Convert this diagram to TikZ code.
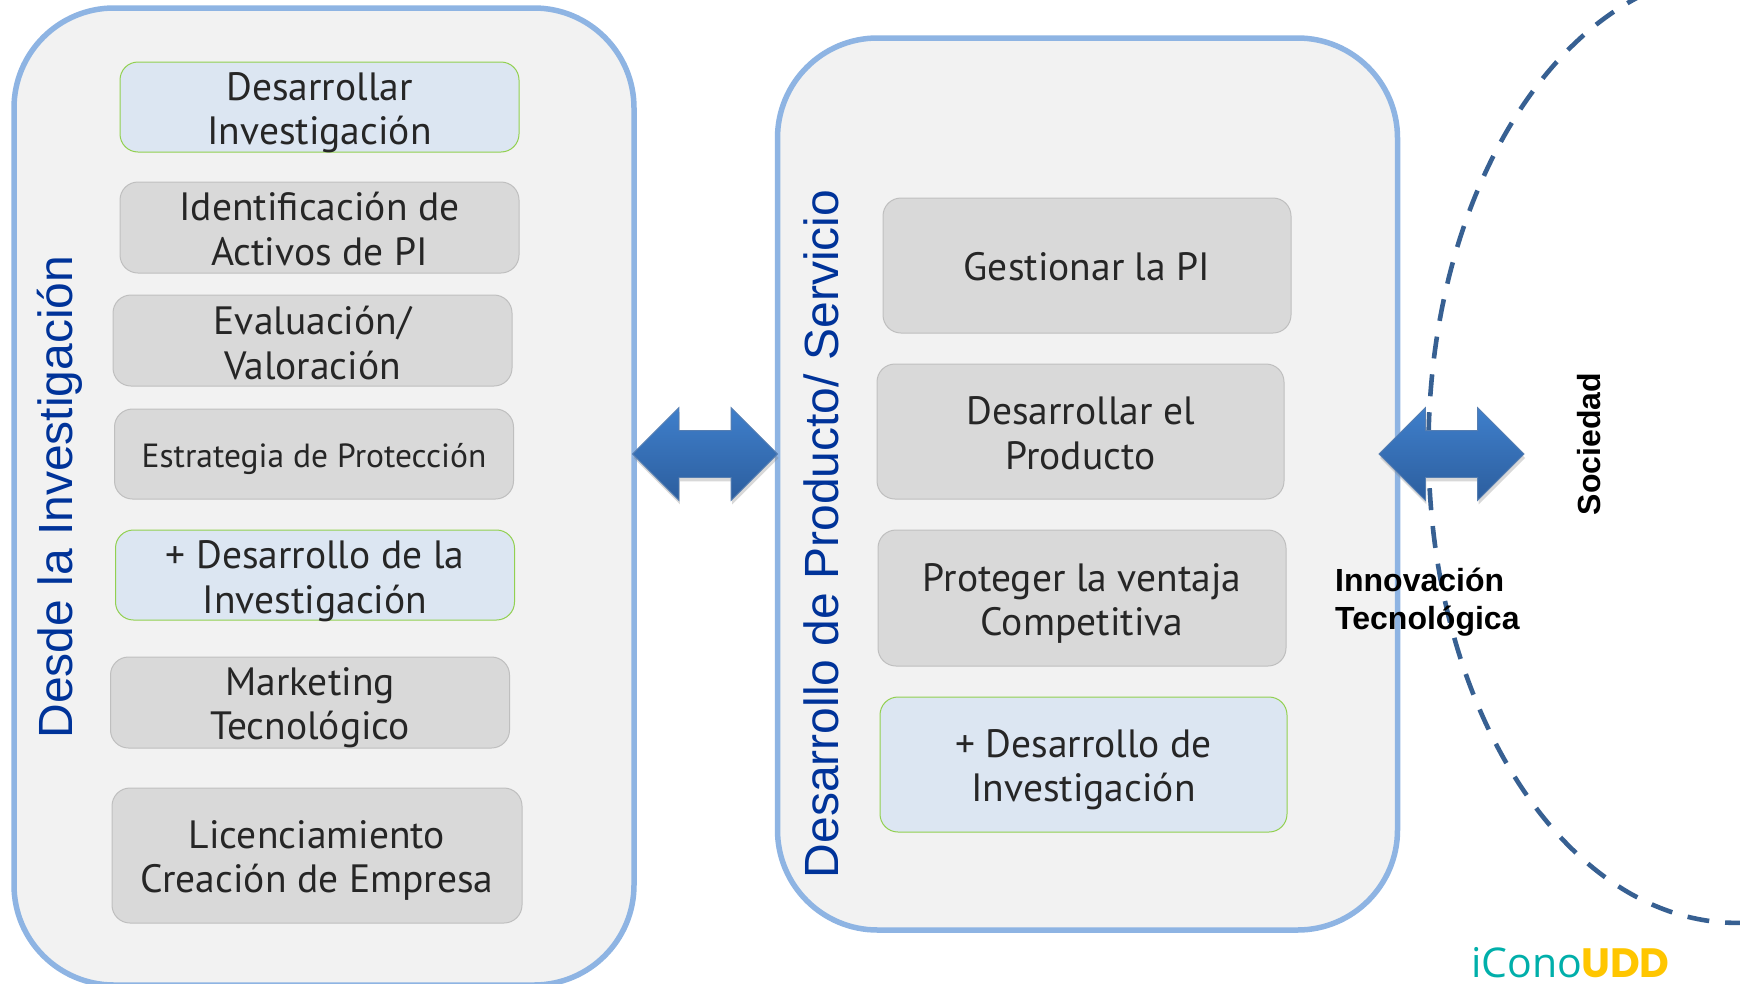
\documentclass[tikz,border=0pt]{standalone}
\usepackage{fontspec}
\usepackage{tikz}
\usetikzlibrary{shapes.arrows,shadows}
\setmainfont{PT Sans}
\newfontfamily\headfont{Liberation Sans}
\newfontfamily\logofont{Open Sans}
\newfontfamily\uddfont{Poppins}
\definecolor{panelline}{HTML}{8EB4E3}
\definecolor{panelfill}{HTML}{F2F2F2}
\definecolor{greybox}{HTML}{D9D9D9}
\definecolor{greyline}{HTML}{BFBFBF}
\definecolor{bluebox}{HTML}{DCE6F2}
\definecolor{greenline}{HTML}{92D050}
\definecolor{boxtext}{HTML}{262626}
\definecolor{headblue}{HTML}{003399}
\definecolor{dashblue}{HTML}{376092}
\definecolor{arrowtop}{HTML}{3F7FCB}
\definecolor{arrowbot}{HTML}{2C5E9E}
\definecolor{logoteal}{HTML}{00AFAA}
\definecolor{logoyellow}{HTML}{FFC600}
\newcommand{\lowtext}[1]{\rule{0pt}{#1pt}}
\begin{document}
\begin{tikzpicture}[x=1pt, y=-1pt]
\tikzstyle{panel} = [draw=panelline, fill=panelfill, line width=5.5pt, rounded corners=100pt, inner sep=0pt]
\tikzstyle{grey} = [draw=greyline, fill=greybox, line width=1pt, rounded corners=18pt, inner xsep=0pt, inner ysep=-6pt, minimum width=399pt, align=center, text=boxtext, font=\fontsize{39.5}{44.5}\selectfont]
\tikzstyle{blue} = [grey, draw=greenline, fill=bluebox]
\tikzstyle{head} = [rotate=90, text=headblue, inner sep=0pt, font=\headfont\fontsize{48}{50}\selectfont]
\tikzstyle{blk} = [inner sep=0pt, align=left, font=\headfont\bfseries\fontsize{32}{38}\selectfont]
\tikzstyle{both} = [double arrow, double arrow tip angle=90, double arrow head extend=23pt, double arrow head indent=0pt, inner xsep=0pt, inner ysep=23pt, minimum width=92pt, minimum height=145pt, draw=arrowbot!80!white, line width=.8pt, top color=arrowtop, bottom color=arrowbot, drop shadow={shadow xshift=1pt, shadow yshift=-4pt, opacity=.3}]
\clip (0,0) rectangle (1740,983);
\fill[white] (0,0) rectangle (1740,983);
\node[panel, minimum width=620pt, minimum height=977pt] (inv) at (324,496.5) {};
\node[panel, minimum width=620pt, minimum height=892pt] (prod) at (1087.5,484) {};
\draw[dashblue, line width=4.6pt, dash pattern=on 22pt off 16pt, dash phase=32.5pt] (1737.5,447.5) ellipse [x radius=309, y radius=475.4];
\node[blue, minimum height=90pt] (b1) at (319.5,107) {\lowtext{39}Desarrollar\\Investigación};
\node[grey, minimum height=91pt] (b2) at (319.5,227.5) {\lowtext{31}Identificación de\\Activos de PI};
\node[grey, minimum height=91pt] (b3) at (312.5,340.5) {\lowtext{33}Evaluación/\\Valoración};
\node[grey, minimum height=90pt, font=\fontsize{33.5}{38}\selectfont] (b4) at (314,454) {\lowtext{34}Estrategia de Protección};
\node[blue, minimum height=90pt] (b5) at (315,575) {\lowtext{40}+ Desarrollo de la\\Investigación};
\node[grey, minimum height=91pt] (b6) at (310,702.5) {\lowtext{38}Marketing\\Tecnológico};
\node[grey, minimum width=410pt, minimum height=135pt] (b7) at (317,855.5) {\lowtext{38}Licenciamiento\\Creación de Empresa};
\node[grey, minimum width=408pt, minimum height=135pt] (r1) at (1087,265.5) {\lowtext{31}Gestionar la PI};
\node[grey, minimum width=407pt, minimum height=135pt] (r2) at (1080.5,431.5) {\lowtext{31}Desarrollar el\\Producto};
\node[grey, minimum width=408pt, minimum height=136pt] (r3) at (1082,598) {\lowtext{39}Proteger la ventaja\\Competitiva};
\node[blue, minimum width=407pt, minimum height=135pt] (r4) at (1083.5,764.5) {\lowtext{38}+ Desarrollo de\\Investigación};
\node[head] (desde) at (60,497) {Desde la Investigación};
\node[head] (desa) at (821,534) {Desarrollo de Producto/ Servicio};
\node[both] (a1) at (705,454) {};
\node[both] (a2) at (1451.5,454) {};
\node[blk, anchor=west] (innov) at (1335,602) {Innovación\\Tecnológica};
\node[blk, rotate=90] (soc) at (1589,444) {Sociedad};
\node[inner sep=0pt, anchor=base west, text=logoteal, font=\logofont\fontsize{41}{41}\selectfont] (ico) at (1471,977) {iCono};
\node[inner sep=0pt, anchor=base west, text=logoyellow, font=\uddfont\bfseries\fontsize{41}{41}\selectfont] (udd) at (1581,977) {UDD};
\end{tikzpicture}
\end{document}
